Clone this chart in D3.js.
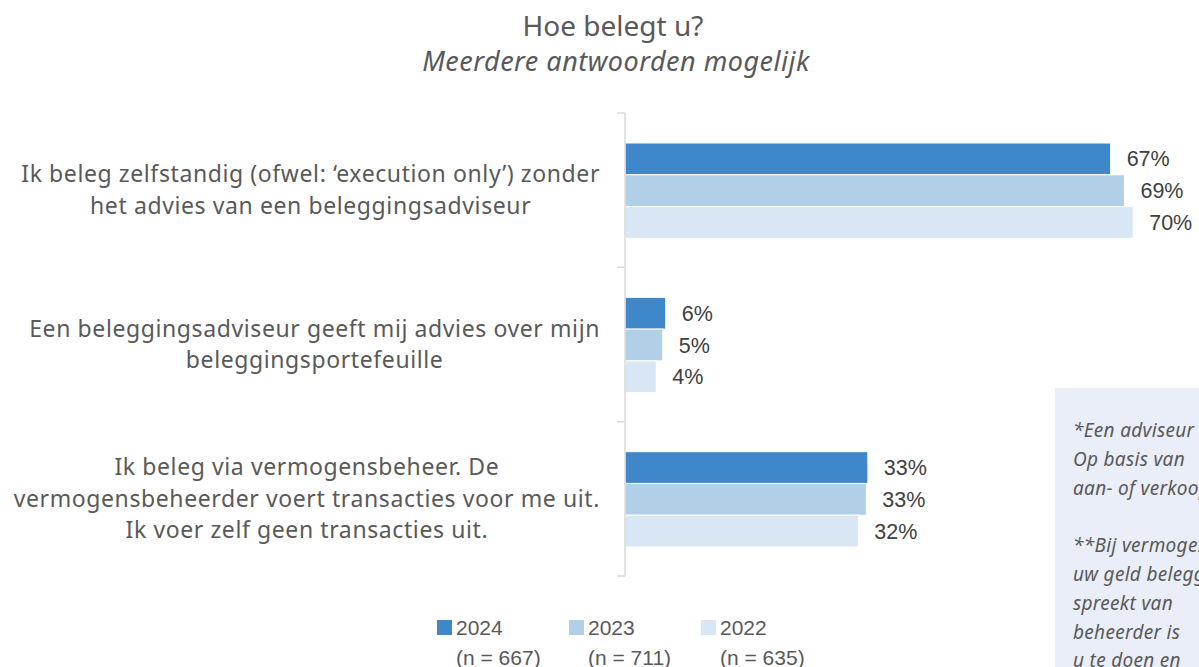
<!DOCTYPE html>
<html>
<head>
<meta charset="utf-8">
<script src="https://cdn.jsdelivr.net/npm/d3@7"></script>
<style>
  body { margin: 0; background: #fff; }
  svg { font-family: "Noto Sans", sans-serif; }
  .cat { fill: #595959; font-size: 23px; letter-spacing: 0.6px; }
  .val { fill: #404040; font-size: 21.5px; font-family: "Liberation Sans", Arial, sans-serif; }
  .leg { fill: #595959; font-size: 21px; font-family: "Liberation Sans", Arial, sans-serif; }
  .note { fill: #595959; font-size: 19px; font-style: italic; letter-spacing: 0.3px; }
</style>
</head>
<body>
<svg width="1199" height="667"></svg>
<script>
const categories = [
  ["Ik beleg zelfstandig (ofwel: \u2018execution only\u2019) zonder", "het advies van een beleggingsadviseur"],
  ["Een beleggingsadviseur geeft mij advies over mijn", "beleggingsportefeuille"],
  ["Ik beleg via vermogensbeheer. De", "vermogensbeheerder voert transacties voor me uit.", "Ik voer zelf geen transacties uit."]
];
const years = ["2024", "2023", "2022"];
const sampleSizes = ["(n = 667)", "(n = 711)", "(n = 635)"];
const values2024 = [66.8, 5.6, 33.4];
const values2023 = [68.7, 5.2, 33.2];
const values2022 = [69.9, 4.3, 32.1];
const colors = ["#3e87cb", "#b2cfe8", "#d9e6f4"];
const noteLines = [
  "*Een adviseur",
  "Op basis van",
  "aan- of verkoop",
  "",
  "**Bij vermogensbeheer",
  "uw geld beleggen",
  "spreekt van",
  "beheerder is",
  "u te doen en"
];

const series = [values2024, values2023, values2022];
const svg = d3.select("svg");

// title
svg.append("text")
  .attr("x", 613).attr("y", 36)
  .attr("text-anchor", "middle")
  .style("font-size", "28px").style("fill", "#595959")
  .text("Hoe belegt u?");
svg.append("text")
  .attr("x", 616).attr("y", 71)
  .attr("text-anchor", "middle")
  .style("font-size", "27px").style("font-style", "italic").style("fill", "#595959")
  .style("letter-spacing", "0.5px")
  .text("Meerdere antwoorden mogelijk");

const y = d3.scaleBand()
  .domain(d3.range(categories.length))
  .range([113, 576]);

const inner = d3.scaleBand()
  .domain(d3.range(years.length))
  .range([30, y.bandwidth() - 29]);

const x = d3.scaleLinear()
  .domain([0, 100])
  .range([625, 625 + 727]);

// note box (behind)
const note = svg.append("g");
note.append("rect")
  .attr("x", 1055).attr("y", 388)
  .attr("width", 200).attr("height", 300)
  .attr("fill", "#e9eef8");
note.selectAll("text")
  .data(noteLines)
  .enter()
  .append("text")
  .attr("class", "note")
  .attr("x", 1073)
  .attr("y", (d, i) => 437 + i * 28.8)
  .text(d => d);

// bars
const groups = svg.selectAll("g.cat-group")
  .data(categories)
  .enter()
  .append("g")
  .attr("class", "cat-group")
  .attr("transform", (d, i) => `translate(0, ${y(i)})`);

years.forEach((yr, s) => {
  groups.append("rect")
    .attr("x", x(0))
    .attr("y", inner(s))
    .attr("width", (d, i) => x(series[s][i]) - x(0))
    .attr("height", inner.bandwidth())
    .attr("fill", colors[s])
    .attr("stroke", "#fff")
    .attr("stroke-width", 1);

  groups.append("text")
    .attr("class", "val")
    .attr("x", (d, i) => x(series[s][i]) + 16)
    .attr("y", inner(s) + inner.bandwidth() / 2)
    .attr("dy", "0.35em")
    .text((d, i) => d3.format(".0f")(series[s][i]) + "%");
});

// axis line with ticks
const axis = svg.append("g");
axis.append("line")
  .attr("x1", 625).attr("x2", 625)
  .attr("y1", y.range()[0]).attr("y2", y.range()[1])
  .attr("stroke", "#d9d9d9").attr("stroke-width", 1.5);
axis.selectAll("line.tick")
  .data(d3.range(categories.length + 1))
  .enter()
  .append("line")
  .attr("class", "tick")
  .attr("x1", 617).attr("x2", 625)
  .attr("y1", d => y.range()[0] + d * y.step())
  .attr("y2", d => y.range()[0] + d * y.step())
  .attr("stroke", "#d9d9d9").attr("stroke-width", 1.5);

// category labels: block right-aligned at axis, lines centered within block
const lineH = 31.5;
groups.each(function(lines, i) {
  const g = d3.select(this);
  const texts = g.selectAll("text.cat")
    .data(lines)
    .enter()
    .append("text")
    .attr("class", "cat")
    .attr("text-anchor", "middle")
    .attr("y", (d, j) => y.bandwidth() / 2 + (j - (lines.length - 1) / 2) * lineH)
    .attr("dy", "0.35em")
    .text(d => d);
  let maxW = 0;
  texts.each(function() { maxW = Math.max(maxW, this.getComputedTextLength()); });
  texts.attr("x", 600 - maxW / 2);
});

// legend
const legend = svg.selectAll("g.legend")
  .data(years)
  .enter()
  .append("g")
  .attr("class", "legend")
  .attr("transform", (d, i) => `translate(${437 + i * 132}, 620)`);
legend.append("rect")
  .attr("width", 15).attr("height", 15)
  .attr("fill", (d, i) => colors[i]);
legend.append("text")
  .attr("class", "leg")
  .attr("x", 19).attr("y", 8).attr("dy", "0.35em")
  .text(d => d);
legend.append("text")
  .attr("class", "leg")
  .attr("x", 19).attr("y", 38).attr("dy", "0.35em")
  .text((d, i) => sampleSizes[i]);
</script>
</body>
</html>
